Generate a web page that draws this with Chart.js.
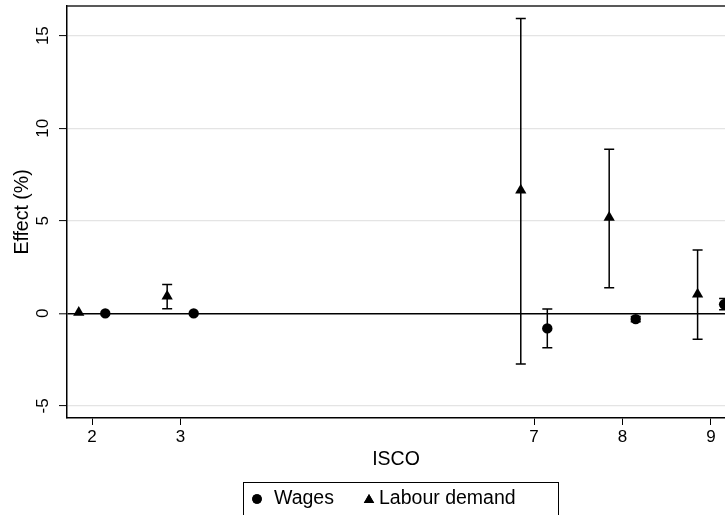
<!DOCTYPE html>
<html>
<head>
<meta charset="utf-8">
<script src="https://cdn.jsdelivr.net/npm/chart.js@4.4.1/dist/chart.umd.min.js"></script>
<style>
  html, body { margin: 0; padding: 0; background: #fff; }
</style>
</head>
<body>
<canvas id="c" width="725" height="515"></canvas>
<script>
// ISCO major groups shown on the axis
const iscoGroups = [2, 3, 7, 8, 9];

// Wage effects (%) with 95% confidence bounds
const wages     = [0, 0, -0.81, -0.31, 0.49];
const wagesLow  = [0, 0, -1.86, -0.45, 0.20];
const wagesHigh = [0, 0,  0.23, -0.17, 0.80];

// Labour demand effects (%) with 95% confidence bounds
const labourDemand = [0.05, 0.93,  6.65, 5.18,  1.03];
const labourLow    = [0.05, 0.25, -2.74, 1.38, -1.40];
const labourHigh   = [0.05, 1.56, 15.92, 8.87,  3.42];

const yTicks = [-5, 0, 5, 10, 15];
const xTicks = iscoGroups;

const FONT = "'Liberation Sans', Arial, Helvetica, sans-serif";
const DODGE = 0.15; // horizontal shift so the two series sit side by side

function series(values, low, high, shift) {
  return values.map((v, i) => ({ x: iscoGroups[i] + shift, y: v, lo: low[i], hi: high[i] }));
}

// Vertical confidence intervals with end caps
const errorBars = {
  id: 'errorBars',
  beforeDatasetsDraw(chart) {
    const { ctx, scales: { x, y } } = chart;
    ctx.save();
    ctx.beginPath();
    ctx.rect(chart.chartArea.left, chart.chartArea.top, chart.chartArea.right - chart.chartArea.left, chart.chartArea.bottom - chart.chartArea.top);
    ctx.clip();
    ctx.strokeStyle = '#000';
    ctx.lineWidth = 1.5;
    chart.data.datasets.forEach(ds => {
      ds.data.forEach(p => {
        if (p.lo === p.hi) return;
        const px = x.getPixelForValue(p.x);
        const yl = y.getPixelForValue(p.lo);
        const yh = y.getPixelForValue(p.hi);
        ctx.beginPath();
        ctx.moveTo(px, yl); ctx.lineTo(px, yh);
        ctx.moveTo(px - 5, yl); ctx.lineTo(px + 5, yl);
        ctx.moveTo(px - 5, yh); ctx.lineTo(px + 5, yh);
        ctx.stroke();
      });
    });
    ctx.restore();
  }
};

// Plot region outline along the top
const frameTop = {
  id: 'frameTop',
  afterDraw(chart) {
    const { ctx, chartArea } = chart;
    ctx.save();
    ctx.strokeStyle = '#222';
    ctx.lineWidth = 1.5;
    ctx.beginPath();
    ctx.moveTo(chartArea.left, chartArea.top);
    ctx.lineTo(chartArea.right, chartArea.top);
    ctx.stroke();
    ctx.restore();
  }
};

// Boxed legend under the axis title
const boxedLegend = {
  id: 'boxedLegend',
  afterDraw(chart) {
    const { ctx } = chart;
    const left = 243, right = 558, top = 482, cy = 499;
    ctx.save();
    ctx.strokeStyle = '#000';
    ctx.lineWidth = 1;
    ctx.strokeRect(left + 0.5, top + 0.5, right - left, 60);
    ctx.font = '19.5px ' + FONT;
    ctx.fillStyle = '#000';
    ctx.textBaseline = 'middle';
    ctx.textAlign = 'left';
    const items = [
      { ds: chart.data.datasets[0], mx: 257, tx: 274 },
      { ds: chart.data.datasets[1], mx: 369, tx: 379 }
    ];
    items.forEach(it => {
      const style = it.ds.pointStyle === 'triangle' ? 'triangle' : 'circle';
      const r = style === 'triangle' ? 6 : 4.8;
      Chart.helpers.drawPoint(ctx, { pointStyle: style, radius: r, borderWidth: 0 }, it.mx, cy + (style === 'triangle' ? 1 : 0));
      ctx.fillStyle = '#000';
      ctx.fill();
      ctx.fillText(it.ds.label, it.tx, cy);
    });
    ctx.restore();
  }
};

new Chart(document.getElementById('c'), {
  type: 'scatter',
  data: {
    datasets: [
      {
        label: 'Wages',
        data: series(wages, wagesLow, wagesHigh, DODGE),
        pointStyle: 'circle',
        pointRadius: 5.2,
        pointBackgroundColor: '#000',
        pointBorderColor: '#000',
        pointBorderWidth: 0
      },
      {
        label: 'Labour demand',
        data: series(labourDemand, labourLow, labourHigh, -DODGE),
        pointStyle: 'triangle',
        pointRadius: 6.5,
        pointBackgroundColor: '#000',
        pointBorderColor: '#000',
        pointBorderWidth: 0
      }
    ]
  },
  options: {
    responsive: false,
    animation: false,
    devicePixelRatio: 1,
    layout: { autoPadding: false, padding: { top: 6, left: 0, right: 0, bottom: 0 } },
    plugins: {
      legend: { display: false },
      tooltip: { enabled: false }
    },
    scales: {
      x: {
        type: 'linear',
        min: 1.717,
        max: 9.16,
        afterBuildTicks(scale) { scale.ticks = xTicks.map(v => ({ value: v })); },
        afterFit(scale) {
          scale.height = 97;
          scale.paddingLeft = 0; scale.paddingRight = 0;
        },
        border: { display: true, color: '#000', width: 1.5 },
        grid: { drawOnChartArea: false, drawTicks: true, tickLength: 7, tickColor: '#000', tickWidth: 1 },
        ticks: {
          color: '#000',
          font: { family: FONT, size: 17 },
          padding: 2,
          maxRotation: 0,
          minRotation: 0
        },
        title: {
          display: true,
          text: 'ISCO',
          color: '#000',
          font: { family: FONT, size: 19.5 },
          padding: { top: 0, bottom: 44 }
        }
      },
      y: {
        type: 'linear',
        min: -5.65,
        max: 16.6,
        afterBuildTicks(scale) { scale.ticks = yTicks.map(v => ({ value: v })); },
        afterFit(scale) {
          scale.width = 67;
          scale.paddingTop = 0; scale.paddingBottom = 0;
        },
        border: { display: true, color: '#000', width: 1.5 },
        grid: {
          color: ctx => ctx.tick && ctx.tick.value === 0 ? '#000' : '#e4e4e4',
          lineWidth: ctx => ctx.tick && ctx.tick.value === 0 ? 1.6 : 1.2,
          drawTicks: true,
          tickLength: 8,
          tickColor: '#000',
          tickWidth: 1
        },
        ticks: {
          color: '#000',
          font: { family: FONT, size: 17 },
          minRotation: 90,
          maxRotation: 90,
          crossAlign: 'center',
          padding: 6
        },
        title: {
          display: true,
          text: 'Effect (%)',
          color: '#000',
          font: { family: FONT, size: 19.5 },
          padding: { top: 11, bottom: 0 }
        }
      }
    }
  },
  plugins: [errorBars, frameTop, boxedLegend]
});
</script>
</body>
</html>
